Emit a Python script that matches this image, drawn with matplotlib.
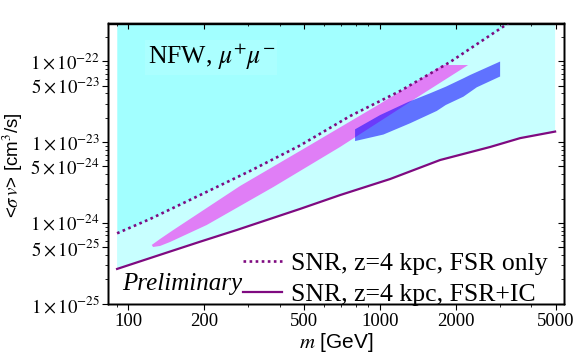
import matplotlib
matplotlib.use("Agg")
import matplotlib.pyplot as plt

plt.rcParams['font.family'] = ['Liberation Serif', 'DejaVu Serif']
plt.rcParams['mathtext.fontset'] = 'stix'

# ---------------- data ----------------
# SNR, z=4 kpc, FSR+IC  (solid)
m_ic = [90.2, 142, 193, 270, 482, 695, 1098, 1735, 2743, 3610, 4973]
sv_ic = [2.69e-25, 4.28e-25, 5.85e-25, 8.17e-25, 1.49e-24, 2.21e-24,
         3.49e-24, 6.00e-24, 8.70e-24, 1.12e-23, 1.35e-23]
# SNR, z=4 kpc, FSR only (dotted)
m_fsr = [90.2, 122, 192.8, 304.7, 481.6, 761.2, 1203, 1901, 3233, 3955]
sv_fsr = [7.43e-25, 1.117e-24, 2.21e-24, 4.39e-24, 9.08e-24, 2.10e-23,
          4.29e-23, 9.80e-23, 2.95e-22, 4.44e-22]
# magenta preferred region (polygon outline)
m_mag = [123.9, 133.7, 151.0, 278.0, 512.2, 983.5, 1784, 2243,
         1355, 694.5, 377.2, 205.0, 146.5, 133.7, 125.4]
sv_mag = [5.33e-25, 6.32e-25, 8.17e-25, 2.86e-24, 8.70e-24, 2.88e-23, 9.0e-23, 9.0e-23,
          3.32e-23, 8.70e-24, 2.78e-24, 9.42e-25, 5.80e-25, 5.18e-25, 5.03e-25]
# blue preferred region (polygon outline)
m_blue = [796.9, 1001.8, 1294, 1583, 1828, 2148, 2284, 3006,
          3006, 2428, 2148, 1828, 1683, 1318.5, 1032.5, 796.9]
sv_blue = [1.44e-23, 2.16e-23, 3.13e-23, 4.02e-23, 4.85e-23, 6.16e-23, 6.77e-23, 9.94e-23,
           6.49e-23, 4.77e-23, 3.65e-23, 2.88e-23, 2.43e-23, 1.71e-23, 1.24e-23, 1.03e-23]

x_ticks = [100, 200, 500, 1000, 2000, 5000]
x_ticklabels = ['100', '200', '500', '1000', '2000', '5000']
y_ticks = [1e-25, 5e-25, 1e-24, 5e-24, 1e-23, 5e-23, 1e-22]
y_ticklabels = [r'$1\times10^{-25}$', r'$5\times10^{-25}$', r'$1\times10^{-24}$',
                r'$5\times10^{-24}$', r'$1\times10^{-23}$', r'$5\times10^{-23}$',
                r'$1\times10^{-22}$']
legend_labels = ['SNR, z=4 kpc, FSR only', 'SNR, z=4 kpc, FSR+IC']

xlim = (83, 5395)
ylim = (0.99e-25, 2.94e-22)
y_top_fill = 1e-20

# ---------------- figure ----------------
fig = plt.figure(figsize=(5.76, 3.55), dpi=100)
ax = fig.add_axes([108 / 576, 51 / 355, 456 / 576, 280.5 / 355])
ax.set_xscale('log')
ax.set_yscale('log')
ax.set_xlim(*xlim)
ax.set_ylim(*ylim)

purple = '#7f0a80'
ax.fill_between(m_ic, sv_ic, y_top_fill, color='#c8ffff', lw=0, zorder=1)
ax.fill_between(m_fsr, sv_fsr, y_top_fill, color='#a2ffff', lw=0, zorder=2)
ax.fill(m_mag, sv_mag, color='#e07ef6', lw=0, zorder=3)
ax.fill(m_blue, sv_blue, color=(0.07, 0.03, 1.0), alpha=0.57, lw=0, zorder=4)

l1, = ax.plot(m_fsr, sv_fsr, color=purple, lw=1.9, dashes=(1.0, 1.3), zorder=5)
l2, = ax.plot(m_ic, sv_ic, color=purple, lw=1.6, zorder=5)

# ticks
ax.set_xticks(x_ticks)
ax.set_xticklabels(x_ticklabels)
ax.set_yticks(y_ticks)
ax.set_yticklabels(y_ticklabels)
ax.tick_params(which='major', direction='out', length=4.5, width=0.8, labelsize=13.5, pad=1.5)
ax.tick_params(which='minor', direction='out', length=2.5, width=0.6)
ax.tick_params(axis='x', which='major', pad=2)

axt = ax.twiny()
axt.set_xscale('log')
axt.set_xlim(*xlim)
axt.set_xticks(x_ticks)
axt.tick_params(which='major', direction='in', length=4.5, width=0.8, labeltop=False)
axt.tick_params(which='minor', direction='in', length=2.5, width=0.6)
axr = ax.twinx()
axr.set_yscale('log')
axr.set_ylim(*ylim)
axr.set_yticks(y_ticks)
axr.tick_params(which='major', direction='in', length=4.5, width=0.8, labelright=False)
axr.tick_params(which='minor', direction='in', length=2.5, width=0.6)
for a in (ax, axt, axr):
    for s in a.spines.values():
        s.set_linewidth(1.0)

ax.set_xlabel(r'$m$ [GeV]', family='Liberation Sans', fontsize=15, labelpad=1)
ax.set_ylabel(r'<$\sigma\, v$> [cm$^3$/s]', family='Liberation Sans', fontsize=13.5)
ax.yaxis.set_label_coords(-0.183, 0.495)

ax.text(0.087, 0.855, r'NFW, $\mu^{+}\mu^{-}$', transform=ax.transAxes, fontsize=18.5,
        va='baseline', ha='left', zorder=6,
        bbox=dict(boxstyle='square,pad=0.1', fc='#abffff', ec='none'))
ax.text(0.030, 0.050, 'Preliminary', transform=ax.transAxes, fontsize=18,
        style='italic', va='baseline', ha='left', zorder=6)

leg = ax.legend([l1, l2], legend_labels, loc='lower left', bbox_to_anchor=(0.285, -0.025),
                frameon=False, fontsize=18.5, handlelength=1.5, handletextpad=0.35,
                labelspacing=0.3, borderpad=0.2, borderaxespad=0.0)
leg.set_zorder(7)

fig.savefig('out.png', dpi=100)
